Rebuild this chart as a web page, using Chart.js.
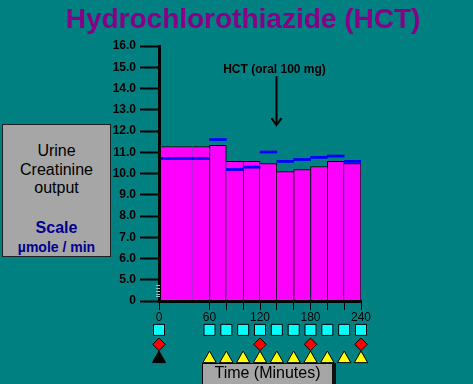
<!DOCTYPE html>
<html>
<head>
<meta charset="utf-8">
<script src="https://cdn.jsdelivr.net/npm/chart.js@4.4.0/dist/chart.umd.min.js"></script>
<style>
html,body{margin:0;padding:0;background:#008080;}
#wrap{position:relative;width:473px;height:384px;overflow:hidden;background:#008080;font-family:"Liberation Sans",Arial,sans-serif;}
#c{position:absolute;left:0;top:0;}
#title{position:absolute;left:0;top:3px;width:486px;text-align:center;font-weight:bold;font-size:28px;line-height:32px;color:#880088;white-space:nowrap;}
#side{position:absolute;left:2px;top:124px;width:107px;height:131px;background:#a6a6a6;border:1px solid #202020;}
#side div{position:absolute;left:0;width:107px;text-align:center;white-space:nowrap;}
#side .l1{top:17px;font-size:16px;line-height:18.5px;color:#000;}
#side .l2{top:94px;font-size:16px;line-height:18px;font-weight:bold;color:#000090;}
#side .l3{top:114px;font-size:14px;line-height:16px;font-weight:bold;color:#000090;}
#tbox{position:absolute;left:202px;top:363px;width:129px;height:30px;background:#a6a6a6;border-top:1px solid #000;border-left:1px solid #000;box-shadow:4px 0 0 #111;}
#tbox div{position:absolute;left:0;top:0;width:129px;text-align:center;font-size:16px;line-height:18px;color:#000;white-space:nowrap;}
</style>
</head>
<body>
<div id="wrap">
  <canvas id="c" width="473" height="384"></canvas>
  <div id="title">Hydrochlorothiazide (HCT)</div>
  <div id="side">
    <div class="l1">Urine<br>Creatinine<br>output</div>
    <div class="l2">Scale</div>
    <div class="l3">µmole / min</div>
  </div>
  <div id="tbox"><div>Time (Minutes)</div></div>
</div>
<script>
// ---- data (minutes / µmole per min) ----
const periodStart = [0, 60, 80, 100, 120, 140, 160, 180, 200, 220];
const periodEnd   = [60, 80, 100, 120, 140, 160, 180, 200, 220, 240];
const creatinineOutput = [11.27, 11.33, 10.57, 10.57, 10.47, 10.09, 10.19, 10.33, 10.57, 10.47];
const blueLevel        = [10.71, 11.60, 10.19, 10.30, 11.01, 10.57, 10.66, 10.76, 10.82, 10.57];

const yTickValues = [4, 5, 6, 7, 8, 9, 10, 11, 12, 13, 14, 15, 16];
const yTickLabels = ['0', '5.0', '6.0', '7.0', '8.0', '9.0', '10.0', '11.0', '12.0', '13.0', '14.0', '15.0', '16.0'];
const xTickValues = [0, 60, 80, 100, 120, 140, 160, 180, 200, 220, 240];
const xTickLabels = ['0', '60', '', '', '120', '', '', '180', '', '', '240'];

const urineSampleTimes = [0, 60, 80, 100, 120, 140, 160, 180, 200, 220, 240];
const bloodSampleTimes = [0, 120, 180, 240];
const collectionTimes  = [60, 80, 100, 120, 140, 160, 180, 200, 220, 240];
const startTimes       = [0];

const annText = 'HCT (oral 100 mg)';
const annTime = 140;
const annTextLevel = 14.72;
const annArrowFrom = 14.58;
const annArrowTo = 12.28;
const breakMarks = [4.22, 4.35, 4.48, 4.61, 4.74];

const SLOT = 20;
// expand each collection period into 20-minute slots
const slots = [];
periodStart.forEach((s, p) => {
  for (let t = s; t < periodEnd[p]; t += SLOT) {
    slots.push({ x: t + SLOT / 2, p, first: t === s, last: t + SLOT === periodEnd[p] });
  }
});
const barData = slots.map(s => ({ x: s.x, y: creatinineOutput[s.p] }));
const blueData = slots.map(s => ({ x: s.x, y: [blueLevel[s.p] - 0.05, blueLevel[s.p] + 0.05] }));

const ROW_SQ = -2, ROW_DI = -3, ROW_TRI = -4;
const FONT = '"Liberation Sans", Arial, sans-serif';

const extras = {
  id: 'extras',
  afterDraw(chart) {
    const { ctx, scales: { x, y } } = chart;
    ctx.save();
    // axis break marks
    ctx.strokeStyle = '#8fc4c4';
    ctx.lineWidth = 1;
    const ax = chart.chartArea.left;
    breakMarks.forEach(v => {
      const py = Math.round(y.getPixelForValue(v)) + 0.5;
      ctx.beginPath(); ctx.moveTo(ax - 3, py); ctx.lineTo(ax + 1, py); ctx.stroke();
    });
    // annotation
    const px = Math.round(x.getPixelForValue(annTime)) - 0.5;
    ctx.fillStyle = '#000';
    ctx.font = 'bold 12px ' + FONT;
    ctx.textAlign = 'center';
    ctx.textBaseline = 'alphabetic';
    ctx.fillText(annText, px - 2, y.getPixelForValue(annTextLevel));
    const y1 = y.getPixelForValue(annArrowFrom), y2 = y.getPixelForValue(annArrowTo);
    ctx.strokeStyle = '#000';
    ctx.lineWidth = 2;
    ctx.beginPath(); ctx.moveTo(px, y1); ctx.lineTo(px, y2); ctx.stroke();
    ctx.beginPath(); ctx.moveTo(px - 5, y2 - 7); ctx.lineTo(px, y2); ctx.lineTo(px + 5, y2 - 7); ctx.stroke();
    ctx.restore();
  }
};

const markerBase = { type: 'line', showLine: false, xAxisID: 'x', yAxisID: 'ym', clip: false, borderColor: '#000', borderWidth: 1 };

new Chart(document.getElementById('c'), {
  type: 'bar',
  data: {
    datasets: [
      {
        label: 'Urine creatinine output',
        data: barData,
        xAxisID: 'x', yAxisID: 'y',
        backgroundColor: '#ff00ff',
        borderColor: '#000',
        borderSkipped: false,
        borderWidth: ctx => {
          const s = slots[ctx.dataIndex];
          if (!s) return 0;
          const v = creatinineOutput[s.p];
          const prev = creatinineOutput[s.p - 1], next = creatinineOutput[s.p + 1];
          return {
            top: 1, bottom: 0,
            left: s.first && (prev === undefined || prev <= v) ? 1 : 0,
            right: s.last && (next === undefined || next < v) ? 1 : 0
          };
        },
        barPercentage: 1, categoryPercentage: 1,
        order: 2
      },
      {
        label: 'Level',
        data: blueData,
        xAxisID: 'x', yAxisID: 'y',
        backgroundColor: '#0000ff',
        borderWidth: 0,
        grouped: false,
        barPercentage: 1, categoryPercentage: 1,
        order: 1
      },
      Object.assign({}, markerBase, {
        label: 'Urine samples',
        data: urineSampleTimes.map(t => ({ x: t, y: ROW_SQ })),
        pointStyle: 'rect', pointRadius: 7.8, backgroundColor: '#00ffff'
      }),
      Object.assign({}, markerBase, {
        label: 'Blood samples',
        data: bloodSampleTimes.map(t => ({ x: t, y: ROW_DI })),
        pointStyle: 'rectRot', pointRadius: 6.3, backgroundColor: '#ff0000'
      }),
      Object.assign({}, markerBase, {
        label: 'Collections',
        data: collectionTimes.map(t => ({ x: t, y: ROW_TRI })),
        pointStyle: 'triangle', pointRadius: 7.7, backgroundColor: '#ffff00'
      }),
      Object.assign({}, markerBase, {
        label: 'Start',
        data: startTimes.map(t => ({ x: t, y: ROW_TRI })),
        pointStyle: 'triangle', pointRadius: 7.7, backgroundColor: '#000000'
      })
    ]
  },
  options: {
    responsive: false,
    animation: false,
    events: [],
    layout: { padding: { left: 0, right: 112, top: 46, bottom: 18 } },
    plugins: { legend: { display: false }, tooltip: { enabled: false }, title: { display: false } },
    scales: {
      ym: {
        type: 'linear', display: false, min: -4.5, max: 0,
        stack: 'left', stackWeight: 65,
        afterFit: s => { s.width = 159; }
      },
      y: {
        type: 'linear', min: 4, max: 16, beginAtZero: false,
        stack: 'left', stackWeight: 255,
        afterBuildTicks: s => { s.ticks = yTickValues.map(v => ({ value: v })); },
        ticks: {
          autoSkip: false, padding: 4, color: '#000',
          font: { family: FONT, size: 12, weight: 'bold' },
          callback: (v, i) => yTickLabels[i]
        },
        grid: { drawOnChartArea: false, drawTicks: true, tickLength: 19, tickWidth: 2, tickColor: '#000' },
        border: { display: true, color: '#000', width: 3, z: 1 },
        afterFit: s => { s.width = 159; }
      },
      x: {
        type: 'linear', min: 0, max: 240, offset: false,
        position: { y: 4 },
        afterBuildTicks: s => { s.ticks = xTickValues.map(v => ({ value: v })); },
        ticks: {
          autoSkip: false, maxRotation: 0, padding: 2, color: '#000',
          font: { family: FONT, size: 12 },
          callback: (v, i) => xTickLabels[i]
        },
        grid: { offset: false, drawOnChartArea: false, drawTicks: true, tickLength: 7, tickWidth: 1, tickColor: '#000' },
        border: { display: true, color: '#000', width: 3, z: 1 }
      }
    }
  },
  plugins: [extras]
});
</script>
</body>
</html>
